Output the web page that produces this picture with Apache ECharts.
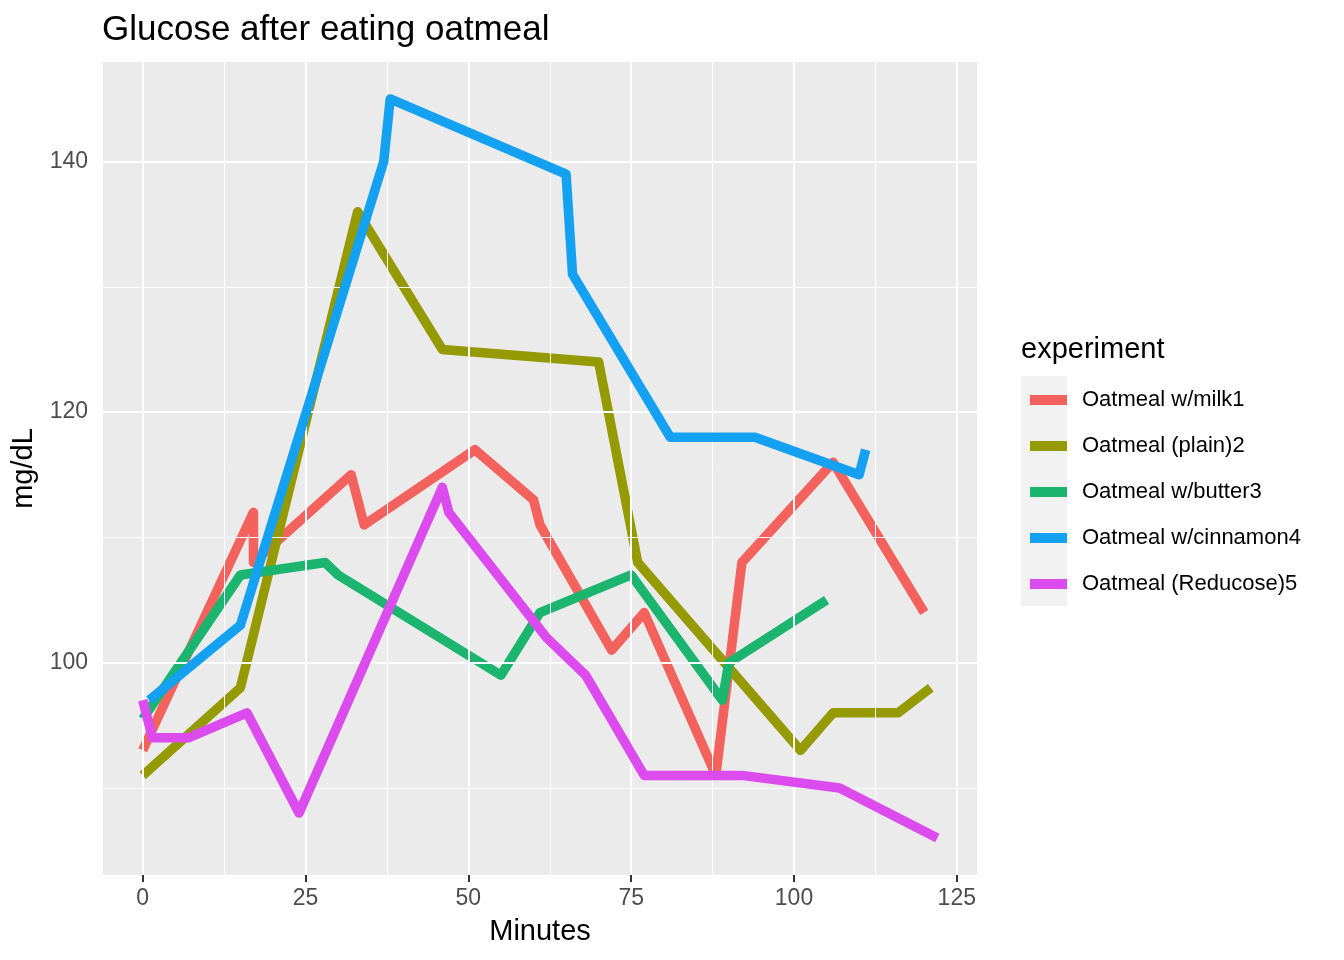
<!DOCTYPE html>
<html>
<head>
<meta charset="utf-8">
<script src="https://cdn.jsdelivr.net/npm/echarts@6/dist/echarts.min.js"></script>
<style>html,body{margin:0;padding:0;background:#fff;}#c{width:1344px;height:960px;}</style>
</head>
<body>
<div id="c"></div>
<script>
// ---- data ----
const seriesNames = ["Oatmeal w/milk1", "Oatmeal (plain)2", "Oatmeal w/butter3", "Oatmeal w/cinnamon4", "Oatmeal (Reducose)5"];
const milkMinutes = [0, 17, 17, 32, 34, 51, 60, 61, 72, 77, 88, 92, 106, 120];
const milkValues  = [93, 112, 108, 115, 111, 117, 113, 111, 101, 104, 91, 108, 116, 104];
const plainMinutes = [0, 15, 33, 46, 70, 76, 101, 106, 116, 121];
const plainValues  = [91, 98, 136, 125, 124, 108, 93, 96, 96, 98];
const butterMinutes = [0, 15, 28, 30, 55, 61, 75, 89, 90, 105];
const butterValues  = [95.5, 107, 108, 107, 99, 104, 107, 97, 100, 105];
const cinnamonMinutes = [1, 15, 37, 38, 65, 66, 81, 94, 110, 111];
const cinnamonValues  = [97, 103, 140, 145, 139, 131, 118, 118, 115, 117];
const reducoseMinutes = [0, 1.5, 7, 16, 24, 46, 47, 62, 68, 77, 92, 107, 122];
const reducoseValues  = [97, 94, 94, 96, 88, 114, 112, 102, 99, 91, 91, 90, 86];
const xTicks = [0, 25, 50, 75, 100, 125];
const xMinorTicks = [12.5, 37.5, 62.5, 87.5, 112.5];
const yTicks = [100, 120, 140];
const yMinorTicks = [90, 110, 130];

const colors = ["#F4625E", "#959A00", "#1BB56F", "#15A1F1", "#DC4BEE"];
const allX = [milkMinutes, plainMinutes, butterMinutes, cinnamonMinutes, reducoseMinutes];
const allY = [milkValues, plainValues, butterValues, cinnamonValues, reducoseValues];

const FONT = "Liberation Sans, Arial, Helvetica, sans-serif";

const gridLines = [];
xTicks.forEach(v => gridLines.push({xAxis: v, lineStyle: {color: "#fff", width: 2, type: "solid"}}));
xMinorTicks.forEach(v => gridLines.push({xAxis: v, lineStyle: {color: "#fff", width: 1, type: "solid"}}));
yTicks.forEach(v => gridLines.push({yAxis: v, lineStyle: {color: "#fff", width: 2, type: "solid"}}));
yMinorTicks.forEach(v => gridLines.push({yAxis: v, lineStyle: {color: "#fff", width: 1, type: "solid"}}));

const series = [{
  type: "line", name: "__grid", data: [], silent: true, z: 1,
  markLine: {silent: true, symbol: "none", animation: false, label: {show: false},
             emphasis: {disabled: true}, data: gridLines}
}];
seriesNames.forEach((n, i) => {
  series.push({
    type: "line", name: n, z: 2 + i,
    data: allX[i].map((x, j) => [x, allY[i][j]]),
    showSymbol: false, symbol: "none",
    lineStyle: {color: colors[i], width: 9.5, cap: "butt", join: "round"},
    itemStyle: {color: colors[i]},
    emphasis: {disabled: true}
  });
});

const chart = echarts.init(document.getElementById("c"), null, {renderer: "canvas"});
chart.setOption({
  animation: false,
  backgroundColor: "#ffffff",
  title: {text: "Glucose after eating oatmeal", left: 97, top: 8,
          textStyle: {fontFamily: FONT, fontSize: 35, fontWeight: "normal", color: "#000"}},
  grid: {left: 103, top: 62, width: 874, height: 813, show: true, backgroundColor: "#EBEBEB", borderWidth: 0},
  legend: {
    orient: "vertical", left: 1025, top: 384,
    data: seriesNames,
    icon: "rect", itemWidth: 37, itemHeight: 10, itemGap: 24,
    textStyle: {fontFamily: FONT, fontSize: 22, color: "#000", lineHeight: 22, padding: [0, 0, 0, 10]},
    selectedMode: false
  },
  graphic: [
    {type: "text", left: 1021, top: 335, style: {text: "experiment", font: "29px " + FONT, fill: "#000"}},
    {type: "rect", left: 1021, top: 376, shape: {width: 46, height: 230}, style: {fill: "#F2F2F2"}, z: -1}
  ],
  xAxis: {
    type: "value", min: -6.1, max: 128.1,
    name: "Minutes", nameLocation: "middle", nameGap: 42,
    nameTextStyle: {fontFamily: FONT, fontSize: 29, color: "#000"},
    axisLine: {show: false},
    axisTick: {show: true, length: 7, lineStyle: {color: "#333", width: 2}, customValues: xTicks},
    axisLabel: {fontFamily: FONT, fontSize: 23, color: "#4D4D4D", margin: 12, customValues: xTicks},
    splitLine: {show: false}
  },
  yAxis: {
    type: "value", min: 83.05, max: 147.95,
    name: "mg/dL", nameLocation: "middle", nameGap: 54, nameRotate: 90,
    nameTextStyle: {fontFamily: FONT, fontSize: 29, color: "#000"},
    axisLine: {show: false},
    axisTick: {show: true, length: 7, lineStyle: {color: "#333", width: 2}, customValues: yTicks},
    axisLabel: {fontFamily: FONT, fontSize: 23, color: "#4D4D4D", margin: 15, customValues: yTicks},
    splitLine: {show: false}
  },
  series: series
});
</script>
</body>
</html>
